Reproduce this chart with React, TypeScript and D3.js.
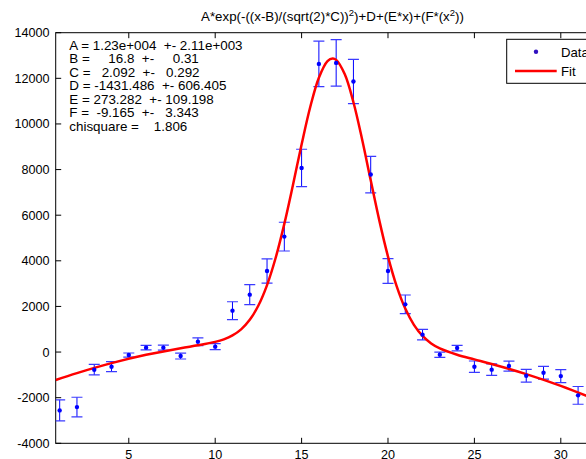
import React from "react";
import * as d3 from "d3";

const xValues = [1,2,3,4,5,6,7,8,9,10,11,12,13,14,15,16,17,18,19,20,21,22,23,24,25,26,27,28,29,30,31];
const yValues = [-2557,-2412,-773,-642,-131,193,193,-175,456,237,1816,2517,3553,5061,8070,12632,12676,11859,7781,3553,2092,763,-114,175,-642,-772,-614,-1036,-904,-1053,-1899];
const errValues = [460,430,230,220,90,100,110,130,170,130,390,440,530,630,820,1000,1020,970,800,540,410,230,115,120,250,250,220,280,280,285,390];

const fitX = [0.77,2,4,6,8,9,10,10.5,11,11.5,12,12.5,13,13.5,14,14.5,15,15.5,16,16.5,16.8,17,17.5,18,18.5,19,19.5,20,20.5,21,21.5,22,22.5,23,24,25,26,28,30,32.5];
const fitY = [-1227,-922,-485,-122,170,297,447,559,729,996,1413,2040,2935,4133,5620,7325,9100,10742,12028,12757,12873,12810,12174,10952,9329,7527,5761,4186,2893,1906,1193,705,378,158,-119,-322,-522,-965,-1482,-2230];

const xTicks = [5,10,15,20,25,30];
const yTicks = [-4000,-2000,0,2000,4000,6000,8000,10000,12000,14000];

const paramLines = [
  "A = 1.23e+004  +- 2.11e+003",
  "B =     16.8  +-     0.31",
  "C =   2.092  +-   0.292",
  "D = -1431.486  +- 606.405",
  "E = 273.282  +- 109.198",
  "F =  -9.165  +-   3.343",
  "chisquare =    1.806",
];

const FONT = "'Liberation Sans', Arial, Helvetica, sans-serif";

export default function App() {
  const left = 55.7, right = 604, top = 32.7, bottom = 443.3;
  const x = d3.scaleLinear().domain([0.77, 32.5]).range([left, right]);
  const y = d3.scaleLinear().domain([-4000, 14000]).range([bottom, top]);
  const line = d3.line<number>()
    .x((_, i) => x(fitX[i]))
    .y((d) => y(d))
    .curve(d3.curveCatmullRom.alpha(0.5));
  const fitPath = line(fitY) || "";
  const tickLen = 5.5;
  const cap = 5.5;

  return (
    <svg width={586} height={459} style={{ position: "absolute", left: 0, top: 0, background: "#fff" }} fontFamily={FONT}>
      <rect x={0} y={0} width={586} height={459} fill="#fff" />
      <defs>
        <clipPath id="plotClip">
          <rect x={left} y={top} width={right - left} height={bottom - top} />
        </clipPath>
      </defs>
      {/* title */}
      <text x={332.5} y={21} textAnchor="middle" fontSize={13.3} fill="#000">
        A*exp(-((x-B)/(sqrt(2)*C))<tspan fontSize={9.5} dy={-5}>2</tspan><tspan dy={5}>)+D+(E*x)+(F*(x</tspan><tspan fontSize={9.5} dy={-5}>2</tspan><tspan dy={5}>))</tspan>
      </text>
      {/* frame */}
      <rect x={left} y={top} width={right - left} height={bottom - top} fill="none" stroke="#000" strokeWidth={1} />
      {/* x ticks */}
      {xTicks.map((t) => (
        <g key={"xt" + t}>
          <line x1={x(t)} x2={x(t)} y1={bottom} y2={bottom - tickLen} stroke="#000" />
          <line x1={x(t)} x2={x(t)} y1={top} y2={top + tickLen} stroke="#000" />
          <text x={x(t)} y={458.5} textAnchor="middle" fontSize={12.6} fill="#000">{t}</text>
        </g>
      ))}
      {/* y ticks */}
      {yTicks.map((t) => (
        <g key={"yt" + t}>
          <line x1={left} x2={left + tickLen} y1={y(t)} y2={y(t)} stroke="#000" />
          <text x={49.5} y={y(t) + 4.5} textAnchor="end" fontSize={12.6} fill="#000">{t}</text>
        </g>
      ))}
      {/* error bars and points */}
      <g clipPath="url(#plotClip)">
        {xValues.map((xv, i) => {
          const cx = x(xv);
          const y1 = y(yValues[i] + errValues[i]);
          const y0 = y(yValues[i] - errValues[i]);
          return (
            <g key={"e" + i}>
              <line x1={cx} x2={cx} y1={y1} y2={y0} stroke="#0000ff" strokeWidth={1} />
              <line x1={cx - cap} x2={cx + cap} y1={y1} y2={y1} stroke="#3a3aff" strokeWidth={1.2} />
              <line x1={cx - cap} x2={cx + cap} y1={y0} y2={y0} stroke="#3a3aff" strokeWidth={1.2} />
            </g>
          );
        })}
        <path d={fitPath} fill="none" stroke="#ff0000" strokeWidth={2.5} strokeLinejoin="round" />
        {xValues.map((xv, i) => (
          <circle key={"p" + i} cx={x(xv)} cy={y(yValues[i])} r={2.2} fill="#0000ff" />
        ))}
      </g>
      {/* parameter text */}
      <text fontSize={13.4} fill="#000" style={{ whiteSpace: "pre" }}>
        {paramLines.map((l, i) => (
          <tspan key={i} x={69.3} y={50 + i * 13.45} xmlSpace="preserve">{l}</tspan>
        ))}
      </text>
      {/* legend */}
      <rect x={506.7} y={39.3} width={120} height={44} fill="#fff" stroke="#000" strokeWidth={1} />
      <circle cx={536} cy={51.7} r={2.2} fill="#3010c0" />
      <text x={561} y={56.7} fontSize={13.2} fill="#000">Data</text>
      <line x1={515} x2={556.7} y1={71} y2={71} stroke="#ff0000" strokeWidth={2.6} />
      <text x={561} y={76} fontSize={13.2} fill="#000">Fit</text>
    </svg>
  );
}
